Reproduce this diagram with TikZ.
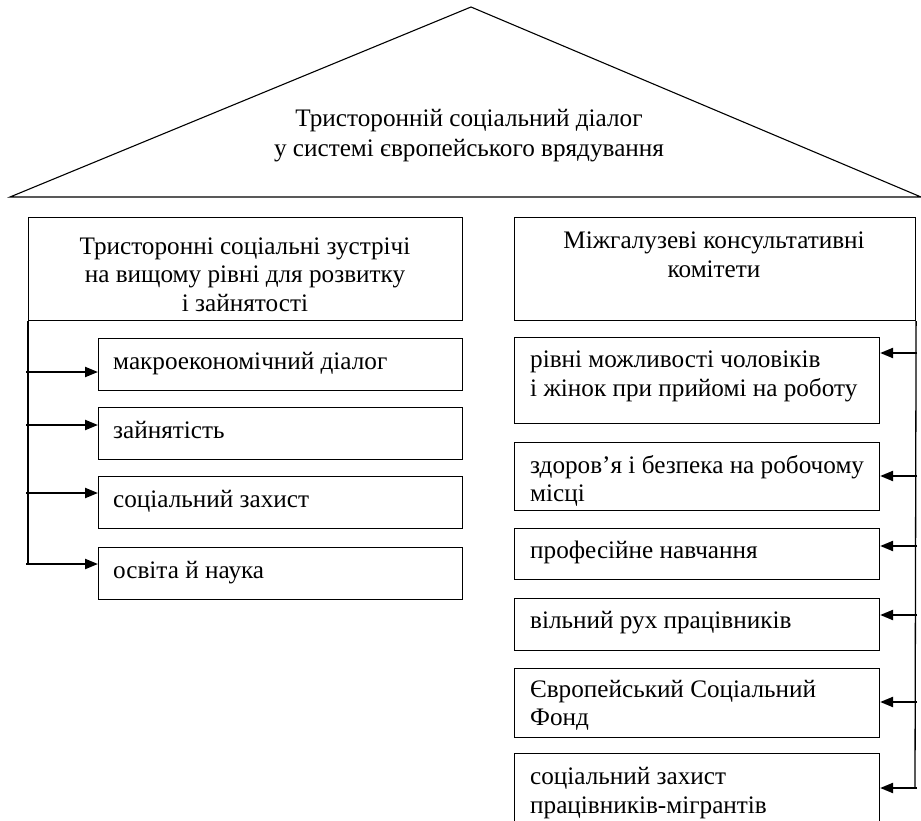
\documentclass[tikz,border=0pt]{standalone}
\usepackage{fontspec}
\setmainfont{Liberation Serif}
\newfontfamily\tnrfont{Liberation Serif}
\usetikzlibrary{arrows.meta}
\begin{document}
\begin{tikzpicture}[x=1pt,y=-1pt,
  frame/.style={draw, line width=1.1pt, rectangle, inner sep=0pt, anchor=north west},
  txt/.style={inner sep=0pt, font=\tnrfont\fontsize{25.2}{28.5}\selectfont},
  arr/.style={line width=2.2pt, -{Triangle[length=13pt,width=10pt]}},
  trunk/.style={line width=1.3pt}]
\useasboundingbox (0,0) rectangle (921,821);
\clip (0,0) rectangle (921,821);
% roof
\draw[line width=1.1pt, line join=miter] (10,197) -- (471,7) -- (921,197) -- cycle;
\node[txt, align=center, anchor=base, font=\tnrfont\fontsize{25.2}{30}\selectfont] (title) at (469,157) {Тристоронній соціальний діалог\\у системі європейського врядування};
% headers
\node[frame, minimum width=434pt, minimum height=103pt] (lh) at (28,217) {};
\node[txt, align=center, anchor=base] (lht) at (245,311) {Тристоронні соціальні зустрічі\\на вищому рівні для розвитку\\і зайнятості};
\node[frame, minimum width=401pt, minimum height=103pt] (rh) at (514,217) {};
\node[txt, align=center, anchor=base] (rht) at (714,277) {Міжгалузеві консультативні\\комітети};
% left boxes
\node[frame, minimum width=364pt, minimum height=52pt] (l1) at (98,338) {};
\node[frame, minimum width=364pt, minimum height=52pt] (l2) at (98,407) {};
\node[frame, minimum width=364pt, minimum height=52pt] (l3) at (98,476) {};
\node[frame, minimum width=364pt, minimum height=52pt] (l4) at (98,547) {};
\node[txt, anchor=base west] (l1t) at (113,369) {макроекономічний діалог};
\node[txt, anchor=base west] (l2t) at (113,438) {зайнятість};
\node[txt, anchor=base west] (l3t) at (113,507) {соціальний захист};
\node[txt, anchor=base west] (l4t) at (113,578) {освіта й наука};
% right boxes
\node[frame, minimum width=365pt, minimum height=86pt] (r1) at (514,337) {};
\node[frame, minimum width=365pt, minimum height=68pt] (r2) at (514,442) {};
\node[frame, minimum width=365pt, minimum height=51pt] (r3) at (514,528) {};
\node[frame, minimum width=365pt, minimum height=52pt] (r4) at (514,598) {};
\node[frame, minimum width=365pt, minimum height=69pt] (r5) at (514,668) {};
\node[frame, minimum width=365pt, minimum height=90pt] (r6) at (514,753) {};
\node[txt, align=left, anchor=base west] (r1t) at (530,396) {рівні можливості чоловіків\\і жінок при прийомі на роботу};
\node[txt, align=left, anchor=base west] (r2t) at (530,501.5) {здоров’я і безпека на робочому\\місці};
\node[txt, anchor=base west] (r3t) at (530,558) {професійне навчання};
\node[txt, anchor=base west] (r4t) at (530,628) {вільний рух працівників};
\node[txt, align=left, anchor=base west] (r5t) at (530,725.5) {Європейський Соціальний\\Фонд};
\node[txt, align=left, anchor=base west] (r6t) at (530,813) {соціальний захист\\працівників-мігрантів};
% left trunk and arrows
\coordinate (ja) at (28,372);
\coordinate (jb) at (28,425);
\coordinate (jc) at (28,493);
\coordinate (jd) at (28,564);
\draw[trunk] (lh.south west) -- (jd);
\draw[arr] ([xshift=-2pt]ja) -- (ja -| l1.west);
\draw[arr] ([xshift=-2pt]jb) -- (jb -| l2.west);
\draw[arr] ([xshift=-2pt]jc) -- (jc -| l3.west);
\draw[arr] ([xshift=-2pt]jd) -- (jd -| l4.west);
% right trunk and arrows
\coordinate (ka) at (915,353);
\coordinate (kb) at (915,476);
\coordinate (kc) at (915,546);
\coordinate (kd) at (915,615);
\coordinate (ke) at (915,702);
\coordinate (kf) at (915,788);
\draw[trunk] (rh.south east) -- (kf);
\draw[arr] ([xshift=2pt]ka) -- (ka -| r1.east);
\draw[arr] ([xshift=2pt]kb) -- (kb -| r2.east);
\draw[arr] ([xshift=2pt]kc) -- (kc -| r3.east);
\draw[arr] ([xshift=2pt]kd) -- (kd -| r4.east);
\draw[arr] ([xshift=2pt]ke) -- (ke -| r5.east);
\draw[arr] ([xshift=2pt]kf) -- (kf -| r6.east);
\end{tikzpicture}
\end{document}
